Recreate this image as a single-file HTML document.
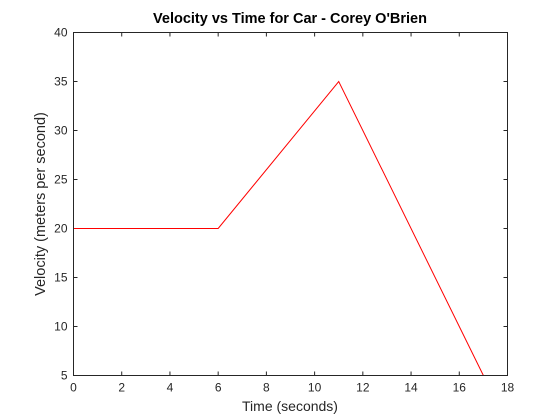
<!DOCTYPE html>
<html><head><meta charset="utf-8"><style>
body{margin:0;background:#fff;width:560px;height:420px;overflow:hidden}
svg{display:block;font-family:"Liberation Sans",Arial,sans-serif}
</style></head><body>
<svg id="chart" width="560" height="420">
<rect x="0" y="0" width="560" height="420" fill="#fff"/>
<rect x="73" y="32" width="434" height="343" fill="#fff" stroke="none"/>
<g id="ticks"></g>
<polyline id="line" fill="none" stroke="#ff0000" stroke-width="1"/>
<rect x="73.5" y="32.5" width="434" height="343" fill="none" stroke="#262626" stroke-width="1"/>
<text x="290" y="23" text-anchor="middle" font-size="14.5" font-weight="bold" fill="#000">Velocity vs Time for Car - Corey O'Brien</text>
<text x="290" y="411" text-anchor="middle" font-size="14" fill="#262626">Time (seconds)</text>
<text transform="translate(45,204) rotate(-90)" text-anchor="middle" font-size="14.5" fill="#262626">Velocity (meters per second)</text>
</svg>
<script>
const times=[0,6,11,17];
const velocities=[20,20,35,5];
const xTicks=[0,2,4,6,8,10,12,14,16,18];
const yTicks=[5,10,15,20,25,30,35,40];
const X0=73.5,X1=507.5,Y0=375.5,Y1=32.5;
const xs=v=>X0+(v-0)/(18-0)*(X1-X0);
const ys=v=>Y0-(v-5)/(40-5)*(Y0-Y1);
const ns="http://www.w3.org/2000/svg";
const g=document.getElementById('ticks');
function mk(t,a){const e=document.createElementNS(ns,t);for(const k in a)e.setAttribute(k,a[k]);return e;}
xTicks.forEach(v=>{
 const x=xs(v);
 const l1=mk('line',{x1:x,x2:x,y1:Y0,y2:Y0-4,stroke:'#262626'});
 
 
 g.appendChild(l1);
 const l2=mk('line',{x1:x,x2:x,y1:Y1,y2:Y1+4,stroke:'#262626'});
 
 
 g.appendChild(l2);
 const t=mk('text',{x:x,y:Y0+16,'text-anchor':'middle','font-size':'12',fill:'#262626'});
 t.textContent=v;
 
 
 g.appendChild(t);
});
yTicks.forEach(v=>{
 const y=ys(v);
 const l1=mk('line',{x1:X0,x2:X0+4,y1:y,y2:y,stroke:'#262626'});
 
 
 g.appendChild(l1);
 const l2=mk('line',{x1:X1,x2:X1-4,y1:y,y2:y,stroke:'#262626'});
 
 
 g.appendChild(l2);
 const t=mk('text',{x:X0-6,y:y+4,'text-anchor':'end','font-size':'12',fill:'#262626'});
 t.textContent=v;
 
 
 g.appendChild(t);
});
document.getElementById('line').setAttribute('points',times.map((t,i)=>xs(t)+','+ys(velocities[i])).join(' '));
</script>
</body></html>
